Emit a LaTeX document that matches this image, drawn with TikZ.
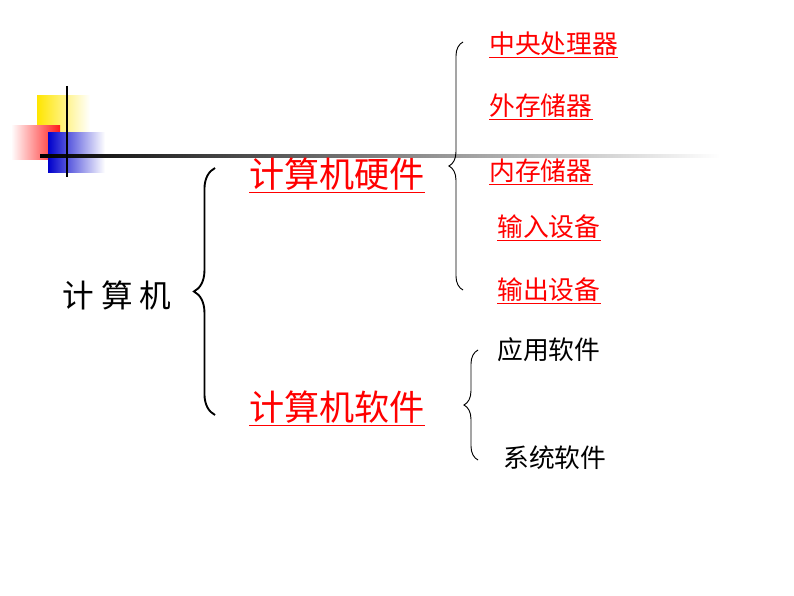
\documentclass[tikz,border=0pt]{standalone}
\usepackage{fontspec}
\setmainfont{Noto Sans CJK SC}
\usetikzlibrary{decorations.pathreplacing}
\tikzset{bigitem/.style = {text=red, font=\fontsize{30}{30}\selectfont, inner sep=1pt},
         subitem/.style = {anchor=west, font=\fontsize{22}{22}\selectfont, inner sep=1pt},
         kuohao/.style  = {decorate, thick, decoration={brace, amplitude=#1}},
         kuohao/.default=12pt
        }
\begin{document}
\begin{tikzpicture}[x=0.03cm, y=-0.03cm]
  \useasboundingbox (0, 0) rectangle (794, 596);
  % decoration
  \shade[left color=yellow!80!orange, right color=white] (37, 96) rectangle (90, 150);
  \shade[left color=white, right color=red!90] (11, 126) rectangle (60, 160);
  \shade[left color=blue!80!black, right color=white] (48, 133) rectangle (105, 173);
  \shade[left color=black, right color=white] (40, 155) rectangle (720, 157.5);
  \draw[line width=1.2pt] (67, 86) -- (67, 177);
  % texts
  \node[font=\fontsize{27}{27}\selectfont] (jsj) at (117, 295) {计\ 算\ 机};
  \node[bigitem] (yj) at (337, 175) {\underline{计算机硬件}};
  \node[bigitem] (rj) at (337, 408) {\underline{计算机软件}};
  \foreach \name/\x/\y/\txt in {cpu/488/45/中央处理器, wc/488/107/外存储器, nc/488/172/内存储器,
                                sr/496/228/输入设备, sc/496/291/输出设备}
      {\node[subitem, text=red] (\name) at (\x, \y) {\underline{\txt}};};
  \node[subitem] (yy) at (496, 350) {应用软件};
  \node[subitem] (xt) at (502, 458) {系统软件};
  % braces
  \coordinate (b1a) at (215, 415);
  \coordinate (b1b) at (215, 168);
  \coordinate (b2a) at (463, 290);
  \coordinate (b2b) at (463, 42);
  \coordinate (b3a) at (478, 460);
  \coordinate (b3b) at (478, 350);
  \draw[kuohao=18pt, line width=1.6pt] (b1a) -- (b1b);
  \draw[kuohao] (b2a) -- (b2b);
  \draw[kuohao] (b3a) -- (b3b);
\end{tikzpicture}
\end{document}
